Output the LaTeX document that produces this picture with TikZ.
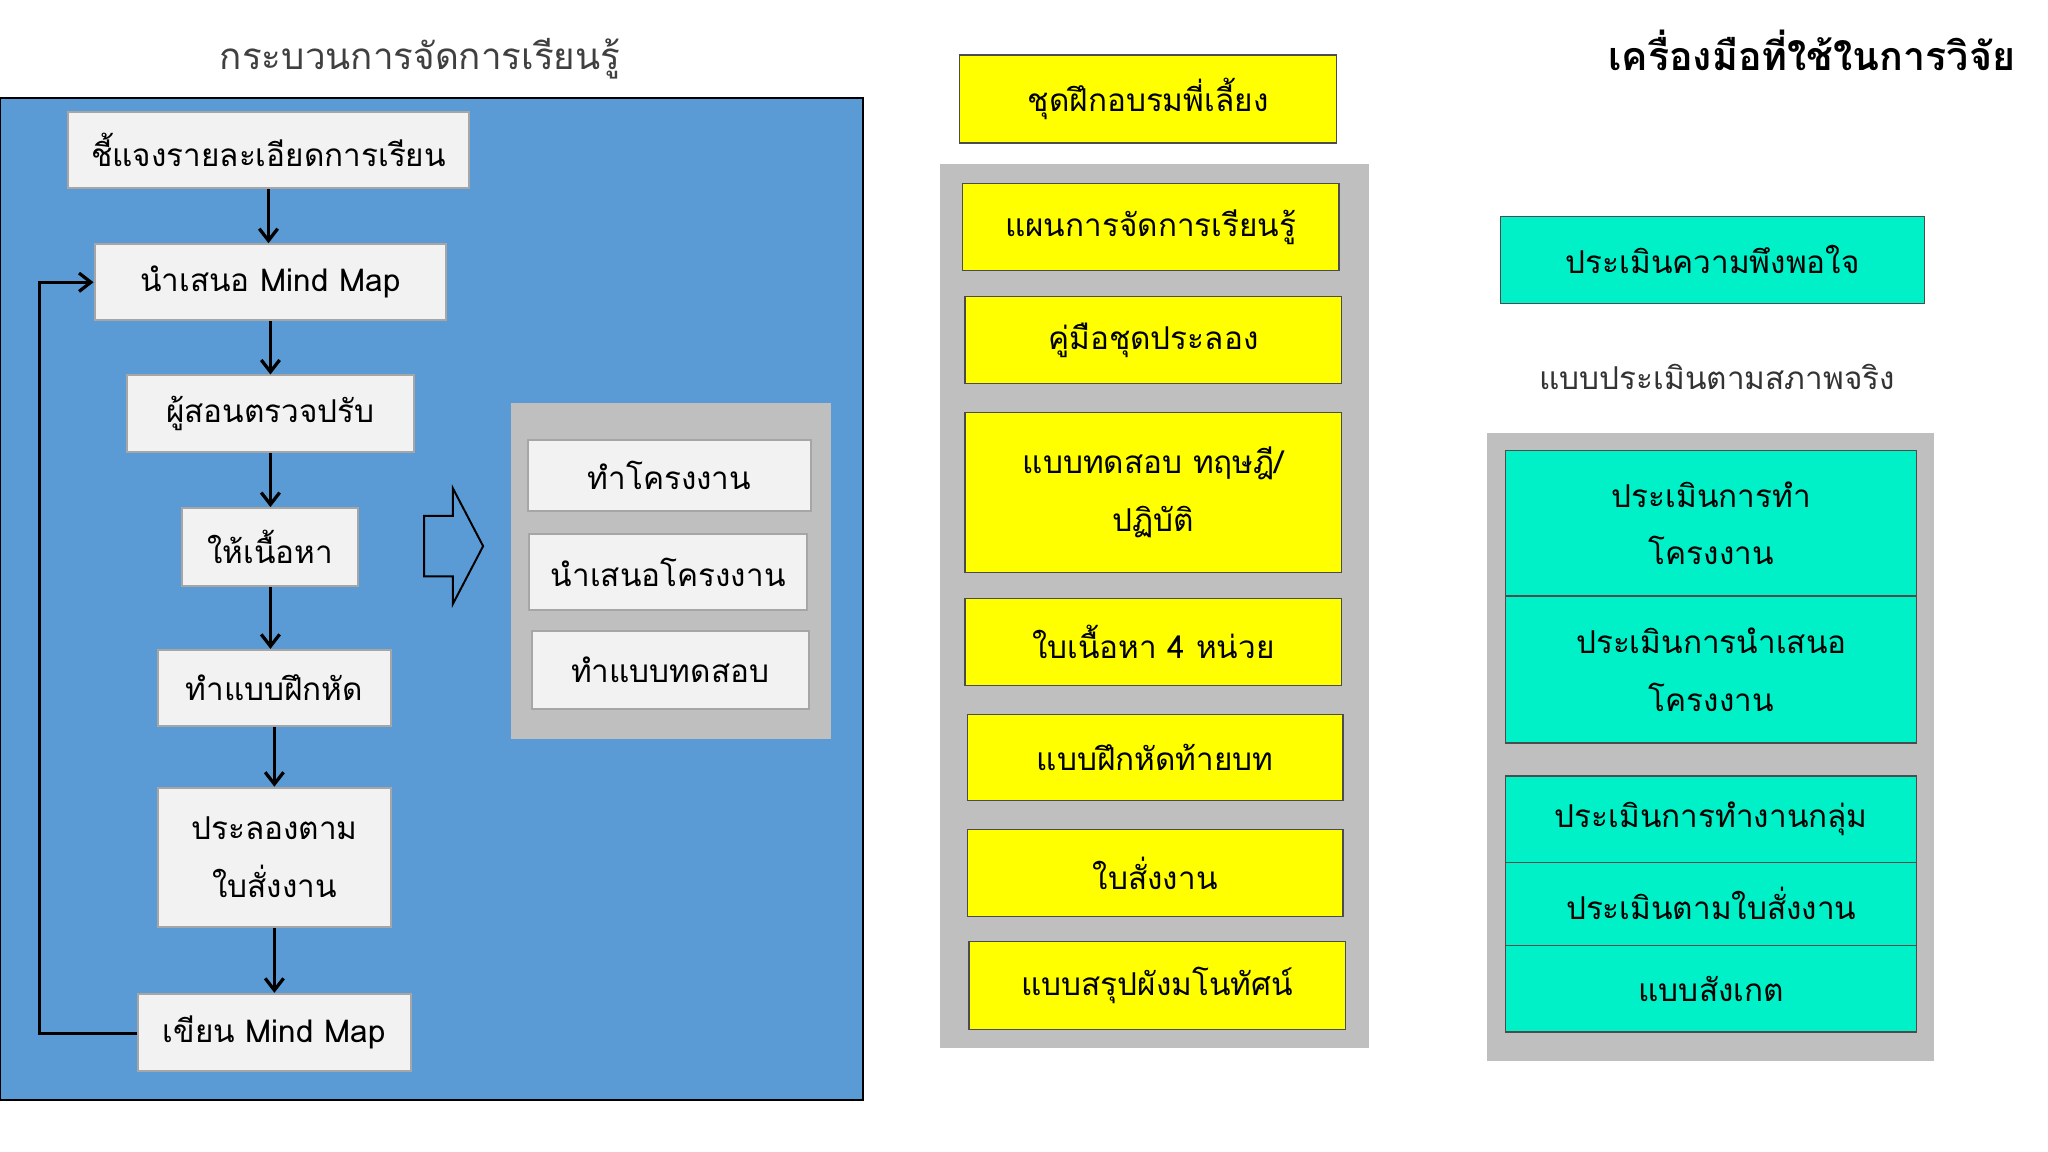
\documentclass[tikz,border=0pt]{standalone}
\usepackage{fontspec}
\newfontfamily\thai[Script=Thai]{Loma}
\usetikzlibrary{arrows.meta}
\definecolor{pblue}{HTML}{5B9BD5}
\definecolor{pgray}{HTML}{BFBFBF}
\definecolor{wbox}{HTML}{F2F2F2}
\definecolor{ybox}{HTML}{FFFF00}
\definecolor{cbox}{HTML}{00F0C8}
\tikzset{
 txt/.style={font=\thai\fontsize{24}{44}\selectfont, align=center, inner sep=0pt},
 wb/.style={txt, draw=gray!70, line width=1.5pt, fill=wbox},
 yb/.style={txt, draw=black!70, line width=1pt, fill=ybox},
 cb/.style={txt, draw=black!70, line width=1pt, fill=cbox},
 flow/.style={-{Straight Barb[length=9pt,width=14pt]}, line width=2.5pt},
}
\newcommand{\bx}[7]{\node[#1, minimum width={#5-#3}, minimum height={#6-#4}] (#2) at ({(#3+#5)/2},{(#4+#6)/2}) {#7};}
\begin{document}
\begin{tikzpicture}[x=1pt,y=-1pt]
\fill[white] (0,0) rectangle (1560,877);
\useasboundingbox (0,0) rectangle (1560,877);
% left
\node[txt, font=\thai\fontsize{28}{34}\selectfont, text=black!75] (t1) at (320,45) {กระบวนการจัดการเรียนรู้};
\draw[fill=pblue, line width=1.5pt] (0,75) rectangle (657,838);
\bx{wb}{a1}{52}{85}{357}{143}{ชี้แจงรายละเอียดการเรียน}
\bx{wb}{a2}{72}{186}{340}{244}{นำเสนอ Mind Map}
\bx{wb}{a3}{97}{286}{315}{344}{ผู้สอนตรวจปรับ}
\bx{wb}{a4}{139}{387}{273}{446}{ให้เนื้อหา}
\bx{wb}{a5}{120}{495}{298}{553}{ทำแบบฝึกหัด}
\bx{wb}{a6}{120}{600}{298}{706}{ประลองตาม\\ใบสั่งงาน}
\bx{wb}{a7}{105}{757}{313}{816}{เขียน Mind Map}
\draw[flow] (a1.south) -- (a1.south |- a2.north);
\draw[flow] (a2.south) -- (a2.south |- a3.north);
\draw[flow] (a3.south) -- (a3.south |- a4.north);
\draw[flow] (a4.south) -- (a4.south |- a5.north);
\draw[flow] (a5.south) -- (a5.south |- a6.north);
\draw[flow] (a6.south) -- (a6.south |- a7.north);
\coordinate (fb1) at (30,787);
\draw[flow] (a7.west |- fb1) -- (fb1) |- (a2.west);
\draw[line width=1.5pt, fill=pblue] (323,393) -- (345,393) -- (345,372) -- (368,416) -- (345,460) -- (345,439) -- (323,439) -- cycle;
\fill[pgray] (389,307) rectangle (633,563);
\bx{wb}{b1}{402}{335}{618}{389}{ทำโครงงาน}
\bx{wb}{b2}{403}{407}{615}{465}{นำเสนอโครงงาน}
\bx{wb}{b3}{405}{481}{616}{540}{ทำแบบทดสอบ}
% middle
\bx{yb}{m0}{731}{42}{1018}{109}{ชุดฝึกอบรมพี่เลี้ยง}
\fill[pgray] (716,125) rectangle (1043,798);
\bx{yb}{m1}{733}{140}{1020}{206}{แผนการจัดการเรียนรู้}
\bx{yb}{m2}{735}{226}{1022}{292}{คู่มือชุดประลอง}
\bx{yb}{m3}{735}{314}{1022}{436}{แบบทดสอบ ทฤษฎี/\\ปฏิบัติ}
\bx{yb}{m4}{735}{456}{1022}{522}{ใบเนื้อหา 4 หน่วย}
\bx{yb}{m5}{737}{544}{1023}{610}{แบบฝึกหัดท้ายบท}
\bx{yb}{m6}{737}{632}{1023}{698}{ใบสั่งงาน}
\bx{yb}{m7}{738}{717}{1025}{784}{แบบสรุปผังมโนทัศน์}
% right
\node[txt, font=\thai\bfseries\fontsize{30}{36}\selectfont] (t2) at (1380,38) {เครื่องมือที่ใช้ในการวิจัย};
\bx{cb}{r0}{1143}{165}{1466}{231}{ประเมินความพึงพอใจ}
\node[txt, text=black!80] (t3) at (1308,287) {แบบประเมินตามสภาพจริง};
\fill[pgray] (1133,330) rectangle (1473,808);
\bx{cb}{r1}{1147}{343}{1460}{454}{ประเมินการทำ\\โครงงาน}
\bx{cb}{r2}{1147}{454}{1460}{566}{ประเมินการนำเสนอ\\โครงงาน}
\bx{cb}{r3}{1147}{591}{1460}{657}{ประเมินการทำงานกลุ่ม}
\bx{cb}{r4}{1147}{657}{1460}{720}{ประเมินตามใบสั่งงาน}
\bx{cb}{r5}{1147}{720}{1460}{786}{แบบสังเกต}
\end{tikzpicture}
\end{document}
